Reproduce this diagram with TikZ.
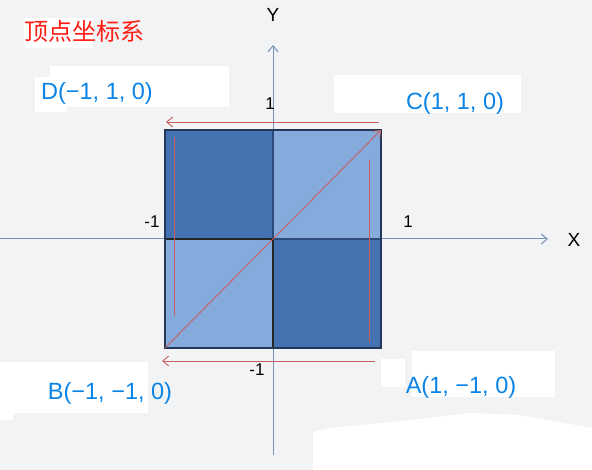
\documentclass[tikz,border=0pt]{standalone}
\usepackage{fontspec}
\setmainfont{Liberation Sans}
\newfontfamily\cjk{Noto Sans CJK SC}
\usetikzlibrary{arrows.meta}
\definecolor{bg}{RGB}{242,243,245}
\definecolor{darkq}{RGB}{69,115,178}
\definecolor{lightq}{RGB}{133,170,220}
\definecolor{navy}{RGB}{35,55,90}
\definecolor{divc}{RGB}{45,75,120}
\definecolor{axisc}{RGB}{120,145,185}
\definecolor{redl}{RGB}{200,95,95}
\definecolor{lblue}{RGB}{10,132,230}
\definecolor{titred}{RGB}{255,30,20}
\tikzset{
  axisline/.style={draw=axisc, line width=1pt, -{Straight Barb[length=6pt,width=10pt]}},
  redline/.style={draw=redl, line width=0.9pt},
  redarrow/.style={redline, -{Straight Barb[length=6pt,width=10pt]}},
  ptlabel/.style={text=lblue, font=\fontsize{23.5}{25}\selectfont, inner sep=0pt},
  axnum/.style={text=black, font=\fontsize{17}{19}\selectfont, inner sep=0pt},
  whitebox/.style={fill=white, draw=none}
}
\begin{document}
\begin{tikzpicture}[x=1pt,y=-1pt]
\useasboundingbox (0,0) rectangle (592,470);
\fill[bg] (0,0) rectangle (592,470);
% white patches in background
\fill[whitebox] (24,18) rectangle (93,48);
\fill[whitebox] (50,66) rectangle (229,107);
\fill[whitebox] (35,77) rectangle (67,112);
\fill[whitebox] (334,75) rectangle (521,113);
\fill[whitebox] (0,362) rectangle (148,413);
\fill[whitebox] (0,413) rectangle (13,420);
\fill[whitebox] (412,351) rectangle (555,397);
\fill[whitebox] (381,359) rectangle (405,387);
\fill[whitebox] (313,470) -- (313,432) -- (330,428) -- (420,419) -- (470,413) -- (520,415) -- (592,428) -- (592,470) -- cycle;

% axes
\coordinate (xs) at (0,239);
\coordinate (xe) at (548,239);
\coordinate (ys) at (273,455);
\coordinate (ye) at (273,45);
\draw[axisline] (xs) -- (xe);
\draw[axisline] (ys) -- (ye);

% corners
\coordinate (D) at (165,130);
\coordinate (C) at (381,130);
\coordinate (B) at (165,348);
\coordinate (A) at (381,348);
\coordinate (O) at (273,239);
\coordinate (Ot) at (273,130);
\coordinate (Ol) at (165,239);
\coordinate (Or) at (381,239);
\coordinate (Ob) at (273,348);
% quadrants
\fill[darkq] (D) rectangle (O);
\fill[darkq] (O) rectangle (A);
\fill[lightq] (Ot) rectangle (Or);
\fill[lightq] (Ol) rectangle (Ob);
\draw[divc, line width=1.2pt] (Ot) -- (O) -- (Or);
\draw[black!85, line width=1.3pt] (Ol) rectangle (Ob);
\draw[navy, line width=1.4pt] (D) rectangle (A);

% red paths
\coordinate (t1) at (379,122); \coordinate (t2) at (166,122);
\coordinate (b1) at (375,361); \coordinate (b2) at (162,361);
\coordinate (l1) at (174,137); \coordinate (l2) at (174,316);
\coordinate (r1) at (369,160); \coordinate (r2) at (369,342);
\draw[redarrow] (t1) -- (t2);
\draw[redarrow] (b1) -- (b2);
\draw[redline] (l1) -- (l2);
\draw[redline] (r1) -- (r2);
\draw[redarrow] (B) -- (C);

% labels
\node[text=titred, font=\cjk\fontsize{24}{26}\selectfont, inner sep=0pt] (title) at (84,31) {顶点坐标系};
\node[ptlabel] (lD) at (97,93) {D(−1, 1, 0)};
\node[ptlabel] (lC) at (455,103) {C(1, 1, 0)};
\node[ptlabel] (lB) at (110,393) {B(−1, −1, 0)};
\node[ptlabel] (lA) at (461,387) {A(1, −1, 0)};
\node[axnum, font=\fontsize{19}{21}\selectfont] (lY) at (273,15) {Y};
\node[axnum, font=\fontsize{19}{21}\selectfont] (lX) at (574,240) {X};
\node[axnum] (n1t) at (270,104) {1};
\node[axnum] (n1l) at (152,222) {-1};
\node[axnum] (n1r) at (408,222) {1};
\node[axnum] (n1b) at (257,370) {-1};
\end{tikzpicture}
\end{document}
